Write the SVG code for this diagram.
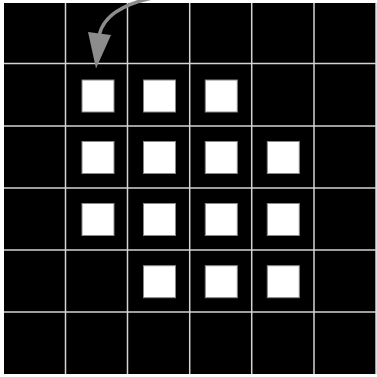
<svg xmlns="http://www.w3.org/2000/svg" width="377" height="377" viewBox="0 0 377 377">
<style>
.grid line{stroke:#d4d4d4;stroke-width:1.5}
.cell{fill:#fff;stroke:#888;stroke-width:1}
.conn{fill:none;stroke:#8c8c8c;stroke-width:3.5}
.head{fill:#8c8c8c}
</style>
<rect width="377" height="377" fill="#fff"/>
<rect x="4" y="3" width="372" height="371" fill="#000"/>
<g class="grid">
<line x1="65.5" y1="3" x2="65.5" y2="374"/>
<line x1="127.5" y1="3" x2="127.5" y2="374"/>
<line x1="189.7" y1="3" x2="189.7" y2="374"/>
<line x1="251.7" y1="3" x2="251.7" y2="374"/>
<line x1="314" y1="3" x2="314" y2="374"/>
<line x1="376" y1="3" x2="376" y2="374"/>
<line x1="4" y1="63.5" x2="376" y2="63.5"/>
<line x1="4" y1="126" x2="376" y2="126"/>
<line x1="4" y1="188" x2="376" y2="188"/>
<line x1="4" y1="250" x2="376" y2="250"/>
<line x1="4" y1="312" x2="376" y2="312"/>
</g>
<g id="r1c2"><rect class="cell" x="82" y="80" width="32" height="32"/></g>
<g id="r1c3"><rect class="cell" x="143.5" y="80" width="32" height="32"/></g>
<g id="r1c4"><rect class="cell" x="205.3" y="80" width="32" height="32"/></g>
<g id="r2c2"><rect class="cell" x="82" y="141.5" width="32" height="32"/></g>
<g id="r2c3"><rect class="cell" x="143.5" y="141.5" width="32" height="32"/></g>
<g id="r2c4"><rect class="cell" x="205.3" y="141.5" width="32" height="32"/></g>
<g id="r2c5"><rect class="cell" x="267.3" y="141.5" width="32" height="32"/></g>
<g id="r3c2"><rect class="cell" x="82" y="203.5" width="32" height="32"/></g>
<g id="r3c3"><rect class="cell" x="143.5" y="203.5" width="32" height="32"/></g>
<g id="r3c4"><rect class="cell" x="205.3" y="203.5" width="32" height="32"/></g>
<g id="r3c5"><rect class="cell" x="267.3" y="203.5" width="32" height="32"/></g>
<g id="r4c3"><rect class="cell" x="143.5" y="265.7" width="32" height="32"/></g>
<g id="r4c4"><rect class="cell" x="205.3" y="265.7" width="32" height="32"/></g>
<g id="r4c5"><rect class="cell" x="267.3" y="265.7" width="32" height="32"/></g>
<g id="connectors">
<path class="conn" d="M152 -2 Q106 8 99.5 34"/>
<polygon class="head" points="88,32 111,35 96,68.5"/>
</g>
</svg>
